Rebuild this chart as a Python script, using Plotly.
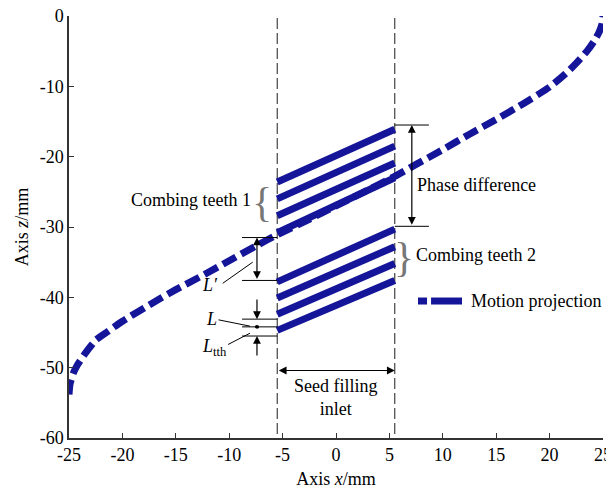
import plotly.graph_objects as go

# ---- data ----
curve_x = [-25, -24.9, -24.6, -24.2, -23.5, -22.5, -21.5, -20, -17.5, -15, -12.5, -10, -7.5, -5.5,
           -2.5, 0, 2.5, 5.5, 7.5, 10, 12.5, 15, 17.5, 20, 21.5, 22.5, 23.5, 24.2, 24.6, 24.9, 25]
curve_z = [-53.8, -52.3, -50.8, -49.6, -48.0, -46.1, -45.0, -43.4, -41.1, -38.9, -36.9, -34.8, -32.7, -31.1,
           -28.9, -27.0, -25.1, -22.8, -21.1, -19.0, -16.8, -14.7, -12.5, -10.1, -8.2, -6.7, -5.0, -3.5, -2.4, -1.2, 0.0]

inlet_x = [-5.5, 5.5]
teeth1_left = [-23.6, -26.0, -28.4, -30.8]
teeth1_right = [-16.1, -18.5, -20.9, -23.0]
teeth2_left = [-37.8, -40.1, -42.4, -44.7]
teeth2_right = [-30.3, -32.8, -35.2, -37.6]

x_ticks = [-25, -20, -15, -10, -5, 0, 5, 10, 15, 20, 25]
x_ticktext = ["-25", "-20", "-15", "-10", "-5", "0", "5", "10", "15", "20", "25"]
z_ticks = [-60, -50, -40, -30, -20, -10, 0]
z_ticktext = ["-60", "-50", "-40", "-30", "-20", "-10", "0"]

NAVY = "#15159a"
FONT = "Liberation Serif"
FS = 18

fig = go.Figure()

# inlet boundaries
for xv in inlet_x:
    fig.add_trace(go.Scatter(x=[xv, xv], y=[-0.3, -60], mode="lines",
                             line=dict(color="#444444", width=1.2, dash="11px,4px"),
                             showlegend=False, hoverinfo="skip"))

# combing teeth
for lz, rz in zip(teeth1_left + teeth2_left, teeth1_right + teeth2_right):
    fig.add_trace(go.Scatter(x=inlet_x, y=[lz, rz], mode="lines",
                             line=dict(color=NAVY, width=7),
                             showlegend=False, hoverinfo="skip"))

# motion projection curve
fig.add_trace(go.Scatter(x=curve_x, y=curve_z, mode="lines", name="Motion projection",
                         line=dict(color=NAVY, width=7, dash="15px,6px", shape="spline", smoothing=0.6),
                         showlegend=False))

shapes = []
def hline(z, x0, x1):
    shapes.append(dict(type="line", xref="x", yref="y", x0=x0, x1=x1, y0=z, y1=z,
                       line=dict(color="black", width=1)))
def seg(x0, y0, x1, y1):
    shapes.append(dict(type="line", xref="x", yref="y", x0=x0, x1=x1, y0=y0, y1=y1,
                       line=dict(color="black", width=1)))

# phase difference marks
hline(-15.5, 5.5, 8.7)
hline(-29.9, 5.5, 8.7)
# L' marks
hline(-31.5, -8.8, -5.5)
hline(-37.6, -8.8, -5.5)
# L and Ltth marks
hline(-43.1, -8.8, -5.5)
hline(-44.2, -8.8, -5.5)
hline(-45.5, -8.8, -5.5)
# leaders
seg(-10.6, -38.0, -7.8, -35.0)
seg(-11.0, -43.2, -8.05, -44.1)
seg(-10.1, -46.7, -8.05, -45.1)
# dot
shapes.append(dict(type="circle", xref="x", yref="y", x0=-7.6, x1=-7.2, y0=-44.45, y1=-43.95,
                   fillcolor="black", line=dict(color="black", width=0)))

# legend sample (paper coords)
LEG_Y = 0.3246
shapes.append(dict(type="line", xref="paper", yref="paper", x0=0.6536, x1=0.6705, y0=LEG_Y, y1=LEG_Y,
                   line=dict(color=NAVY, width=7)))
shapes.append(dict(type="line", xref="paper", yref="paper", x0=0.678, x1=0.736, y0=LEG_Y, y1=LEG_Y,
                   line=dict(color=NAVY, width=7)))

ann = []
def arrow(x0, y0, x1, y1, both=False):
    ann.append(dict(x=x1, y=y1, ax=x0, ay=y0, xref="x", yref="y", axref="x", ayref="y",
                    text="", showarrow=True, arrowhead=2, arrowsize=1.3, arrowwidth=1.2,
                    arrowcolor="black", arrowside="end+start" if both else "end",
                    standoff=0, startstandoff=0))
def text(x, y, s, size=FS, xanchor="left", yanchor="middle", color="black"):
    ann.append(dict(x=x, y=y, xref="x", yref="y", text=s, showarrow=False,
                    xanchor=xanchor, yanchor=yanchor,
                    font=dict(family=FONT, size=size, color=color)))

arrow(7.1, -29.9, 7.1, -15.5, both=True)
arrow(-7.4, -37.6, -7.4, -31.5, both=True)
arrow(-7.4, -40.1, -7.4, -43.1)
arrow(-7.4, -48.5, -7.4, -45.5)
arrow(-5.5, -50.4, 5.5, -50.4, both=True)

text(7.4, -24.0, "Phase difference")
text(-7.8, -26.2, "Combing teeth 1", xanchor="right")
text(-6.9, -26.4, "{", size=42, xanchor="center", color="#777777")
text(6.4, -34.3, "}", size=42, xanchor="center", color="#777777")
text(7.3, -34.0, "Combing teeth 2")
text(0, -54.3, "Seed filling<br>inlet", xanchor="center")
text(-10.9, -38.3, "<i>L′</i>", xanchor="right")
text(-11.0, -43.1, "<i>L</i>", xanchor="right")
text(-10.0, -47.2, "<i>L</i><sub>tth</sub>", xanchor="right")
ann.append(dict(x=(469 - 69) / 534, y=LEG_Y, xref="paper", yref="paper", text="Motion projection",
                showarrow=False, xanchor="left", yanchor="middle",
                font=dict(family=FONT, size=FS, color="black")))

fig.update_layout(
    width=606, height=487,
    margin=dict(l=61, r=11, t=8, b=57),
    paper_bgcolor="white", plot_bgcolor="white",
    font=dict(family=FONT, size=FS, color="black"),
    shapes=shapes, annotations=ann, showlegend=False,
    xaxis=dict(range=[-25, 25], tickvals=x_ticks, ticktext=x_ticktext, automargin=False,
               ticklabeloverflow="allow",
               showgrid=False, zeroline=False, showline=True, linecolor="#333333", linewidth=1.5,
               ticks="inside", ticklen=5, tickcolor="#333333", tickwidth=1.2,
               tickfont=dict(family=FONT, size=FS, color="black"),
               title=dict(text="Axis <i>x</i>/mm", font=dict(family=FONT, size=FS), standoff=8)),
    yaxis=dict(range=[-60, 0], tickvals=z_ticks, ticktext=z_ticktext, automargin=False,
               ticklabeloverflow="allow",
               showgrid=False, zeroline=False, showline=True, linecolor="#333333", linewidth=1.5,
               ticks="inside", ticklen=5, tickcolor="#333333", tickwidth=1.2,
               tickfont=dict(family=FONT, size=FS, color="black"),
               title=dict(text="Axis <i>z</i>/mm", font=dict(family=FONT, size=FS), standoff=6)),
)

fig.write_html("out.html")
